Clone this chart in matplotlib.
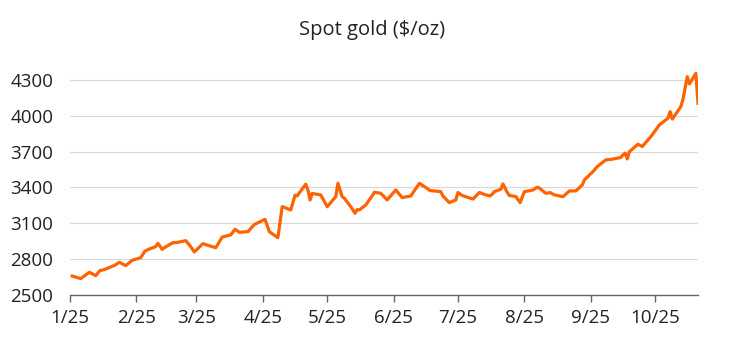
import matplotlib.pyplot as plt
import pandas as pd

# Spot gold, $/oz (2025)
dates = [
    "2025-01-02", "2025-01-06", "2025-01-10", "2025-01-13", "2025-01-15", "2025-01-17",
    "2025-01-22", "2025-01-24", "2025-01-27", "2025-01-30", "2025-02-03", "2025-02-05",
    "2025-02-07", "2025-02-10", "2025-02-11", "2025-02-13", "2025-02-14", "2025-02-18",
    "2025-02-20", "2025-02-24", "2025-02-26", "2025-02-28", "2025-03-04", "2025-03-07",
    "2025-03-10", "2025-03-13", "2025-03-17", "2025-03-19", "2025-03-21", "2025-03-25",
    "2025-03-28", "2025-04-01", "2025-04-02", "2025-04-04", "2025-04-08", "2025-04-10",
    "2025-04-14", "2025-04-16", "2025-04-17", "2025-04-21", "2025-04-22", "2025-04-23",
    "2025-04-24", "2025-04-28", "2025-05-01", "2025-05-05", "2025-05-06", "2025-05-08",
    "2025-05-09", "2025-05-12", "2025-05-14", "2025-05-15", "2025-05-16", "2025-05-19",
    "2025-05-22", "2025-05-23", "2025-05-26", "2025-05-29", "2025-06-02", "2025-06-05",
    "2025-06-09", "2025-06-13", "2025-06-16", "2025-06-18", "2025-06-20", "2025-06-23",
    "2025-06-24", "2025-06-27", "2025-06-30", "2025-07-01", "2025-07-03", "2025-07-08",
    "2025-07-11", "2025-07-14", "2025-07-16", "2025-07-17", "2025-07-18", "2025-07-21",
    "2025-07-22", "2025-07-24", "2025-07-25", "2025-07-28", "2025-07-30", "2025-08-01",
    "2025-08-05", "2025-08-07", "2025-08-08", "2025-08-11", "2025-08-13", "2025-08-15",
    "2025-08-19", "2025-08-22", "2025-08-25", "2025-08-28", "2025-08-29", "2025-09-02",
    "2025-09-04", "2025-09-08", "2025-09-11", "2025-09-15", "2025-09-16", "2025-09-17",
    "2025-09-18", "2025-09-19", "2025-09-23", "2025-09-25", "2025-09-29", "2025-10-01",
    "2025-10-03", "2025-10-07", "2025-10-08", "2025-10-09", "2025-10-13", "2025-10-14",
    "2025-10-16", "2025-10-17", "2025-10-20", "2025-10-21",
]
prices = [
    2659, 2637, 2690, 2662, 2705, 2712,
    2750, 2774, 2746, 2790, 2813, 2868,
    2885, 2905, 2933, 2882, 2896, 2938,
    2940, 2955, 2912, 2860, 2930, 2912,
    2896, 2985, 3003, 3050, 3025, 3030,
    3090, 3125, 3133, 3030, 2980, 3240,
    3212, 3335, 3330, 3428, 3380, 3295,
    3350, 3337, 3239, 3323, 3435, 3323,
    3310, 3239, 3184, 3215, 3212, 3254,
    3330, 3360, 3351, 3296, 3379, 3315,
    3329, 3435, 3400, 3374, 3371, 3365,
    3329, 3273, 3296, 3358, 3333, 3303,
    3358, 3338, 3329, 3345, 3365, 3385,
    3430, 3358, 3333, 3324, 3273, 3365,
    3379, 3402, 3395, 3351, 3357, 3338,
    3323, 3371, 3371, 3421, 3463, 3533,
    3575, 3631, 3637, 3651, 3673, 3687,
    3639, 3700, 3762, 3743, 3826, 3874,
    3924, 3980, 4035, 3972, 4077, 4139,
    4328, 4267, 4356, 4105,
]

dates = pd.to_datetime(dates)
y_ticks = [2500, 2800, 3100, 3400, 3700, 4000, 4300]
month_ticks = pd.date_range("2025-01-01", "2025-10-01", freq="MS")
month_labels = [f"{d.month}/25" for d in month_ticks]

plt.rcParams["font.family"] = ["Open Sans", "DejaVu Sans"]

fig = plt.figure(figsize=(7.44, 3.43), dpi=100)
ax = fig.add_axes([70 / 744, 48 / 343, 628 / 744, 227 / 343])

ax.plot(dates, prices, color="#ff6200", linewidth=2.3, solid_joinstyle="round")

ax.set_xlim(pd.Timestamp("2025-01-01"), pd.Timestamp("2025-10-21"))
ax.set_ylim(2500, 4400)
ax.set_yticks(y_ticks)
ax.set_xticks(month_ticks)
ax.set_xticklabels(month_labels)

ax.grid(axis="y", color="#d9d9d9", linewidth=0.9)
ax.set_axisbelow(True)
for side in ["top", "right", "left"]:
    ax.spines[side].set_visible(False)
ax.spines["bottom"].set_color("#666666")
ax.spines["bottom"].set_linewidth(1.0)

ax.tick_params(axis="y", length=0, pad=12, labelsize=13.5, labelcolor="#222222")
ax.tick_params(axis="x", length=5, width=1.0, color="#666666", pad=5,
               labelsize=13.5, labelcolor="#222222")

fig.text(372 / 744, 1 - 30 / 343, "Spot gold ($/oz)", ha="center", va="center",
         fontsize=14.5, color="#222222")

fig.savefig("out.png", dpi=100)
